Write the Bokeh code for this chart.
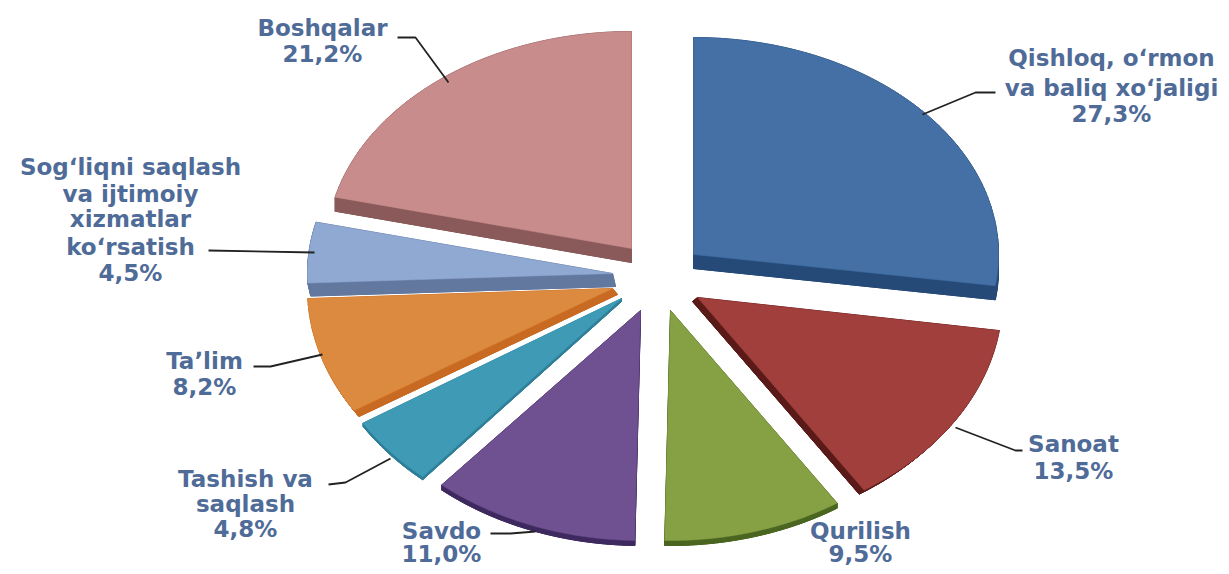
import numpy as np
from bokeh.plotting import figure
from bokeh.embed import file_html
from bokeh.resources import INLINE
from bokeh.core.properties import value

# --- data ---
categories = ["Qishloq, oʻrmon va baliq xoʻjaligi", "Sanoat", "Qurilish", "Savdo",
              "Tashish va saqlash", "Taʼlim", "Sogʻliqni saqlash va ijtimoiy xizmatlar koʻrsatish", "Boshqalar"]
shares = [27.3, 13.5, 9.5, 11.0, 4.8, 8.2, 4.5, 21.2]
pct_labels = ["27,3%", "13,5%", "9,5%", "11,0%", "4,8%", "8,2%", "4,5%", "21,2%"]

# --- styling / layout ---
top_colors = ["#4470a5", "#a03f3c", "#86a044", "#6f5090", "#3f9ab5", "#dc8a3f", "#90a9d3", "#c98c8c"]
side_colors = ["#264a78", "#5a1a18", "#4a6620", "#3f2a60", "#2f7f98", "#c86a22", "#62789f", "#8a5a5a"]
CX, CY, RX = 650, 280, 305
ry_each = [217, 230, 230, 230, 235, 230, 217, 217]
off_x = [43, 47, 20, -10, -29, -38, -38, -19]
off_y = [-26, 17, 30, 30, 18, 8, -7, -32]
side_dx = [0, -5, 0, 0, 0, 5, 3, 0]
side_dy = [14, 4, 5, 5, 3, 6, 13, 14]
draw_order = [7, 0, 6, 5, 4, 3, 2, 1]
TEXT = "#4f6b98"

W, H = 1221, 566
p = figure(width=W, height=H, x_range=(0, W), y_range=(H, 0),
           output_backend="svg", toolbar_location=None, min_border=0,
           outline_line_color=None, background_fill_color="white")
p.axis.visible = False
p.grid.visible = False

edges = np.cumsum([0] + shares) / sum(shares) * 2 * np.pi

def outline(i):
    t = np.linspace(edges[i], edges[i + 1], 80)
    ax, ay = CX + off_x[i], CY + off_y[i]
    xs = np.r_[ax, ax + RX * np.sin(t)]
    ys = np.r_[ay, ay - ry_each[i] * np.cos(t)]
    return xs, ys

for i in draw_order:
    xs, ys = outline(i)
    dx, dy = side_dx[i], side_dy[i]
    qx, qy = [xs + dx], [ys + dy]
    n = len(xs)
    for k in range(n):
        m = (k + 1) % n
        qx.append([xs[k], xs[m], xs[m] + dx, xs[k] + dx])
        qy.append([ys[k], ys[m], ys[m] + dy, ys[k] + dy])
    p.patches([list(a) for a in qx], [list(a) for a in qy], fill_color=side_colors[i],
              line_color=side_colors[i], line_width=1)
    p.patch(xs, ys, fill_color=top_colors[i], line_color=top_colors[i], line_width=0.5)

# leader lines
leaders = [
    ([922, 975, 995], [114, 92, 92]),
    ([955, 1015, 1022], [427, 450, 450]),
    ([490, 510, 535], [533, 533, 531]),
    ([328, 345, 390], [484, 482, 458]),
    ([253, 270, 322], [366, 366, 354]),
    ([208, 314], [250, 252]),
    ([397, 415, 448], [37, 37, 82]),
]
for lx, ly in leaders:
    p.line(lx, ly, line_color="#222222", line_width=1.8)

# labels: (centre x, [(text, y), ...])
labels = [
    (1111, [("Qishloq, oʻrmon", 57), ("va baliq xoʻjaligi", 87), (pct_labels[0], 113)]),
    (1073, [("Sanoat", 443), (pct_labels[1], 470)]),
    (860, [("Qurilish", 530), (pct_labels[2], 553)]),
    (441, [("Savdo", 530), (pct_labels[3], 553)]),
    (245, [("Tashish va", 478), ("saqlash", 503), (pct_labels[4], 528)]),
    (204, [("Taʼlim", 360), (pct_labels[5], 386)]),
    (130, [("Sogʻliqni saqlash", 166), ("va ijtimoiy", 193), ("xizmatlar", 218),
           ("koʻrsatish", 246), (pct_labels[6], 272)]),
    (322, [("Boshqalar", 27), (pct_labels[7], 53)]),
]
for cx, rows in labels:
    p.text([cx] * len(rows), [r[1] for r in rows], text=[r[0] for r in rows],
           text_font=value("DejaVu Sans"), text_font_style="bold", text_font_size="23px",
           text_color=TEXT, text_align="center", text_baseline="middle")

open("out.html", "w").write(file_html(p, INLINE))
